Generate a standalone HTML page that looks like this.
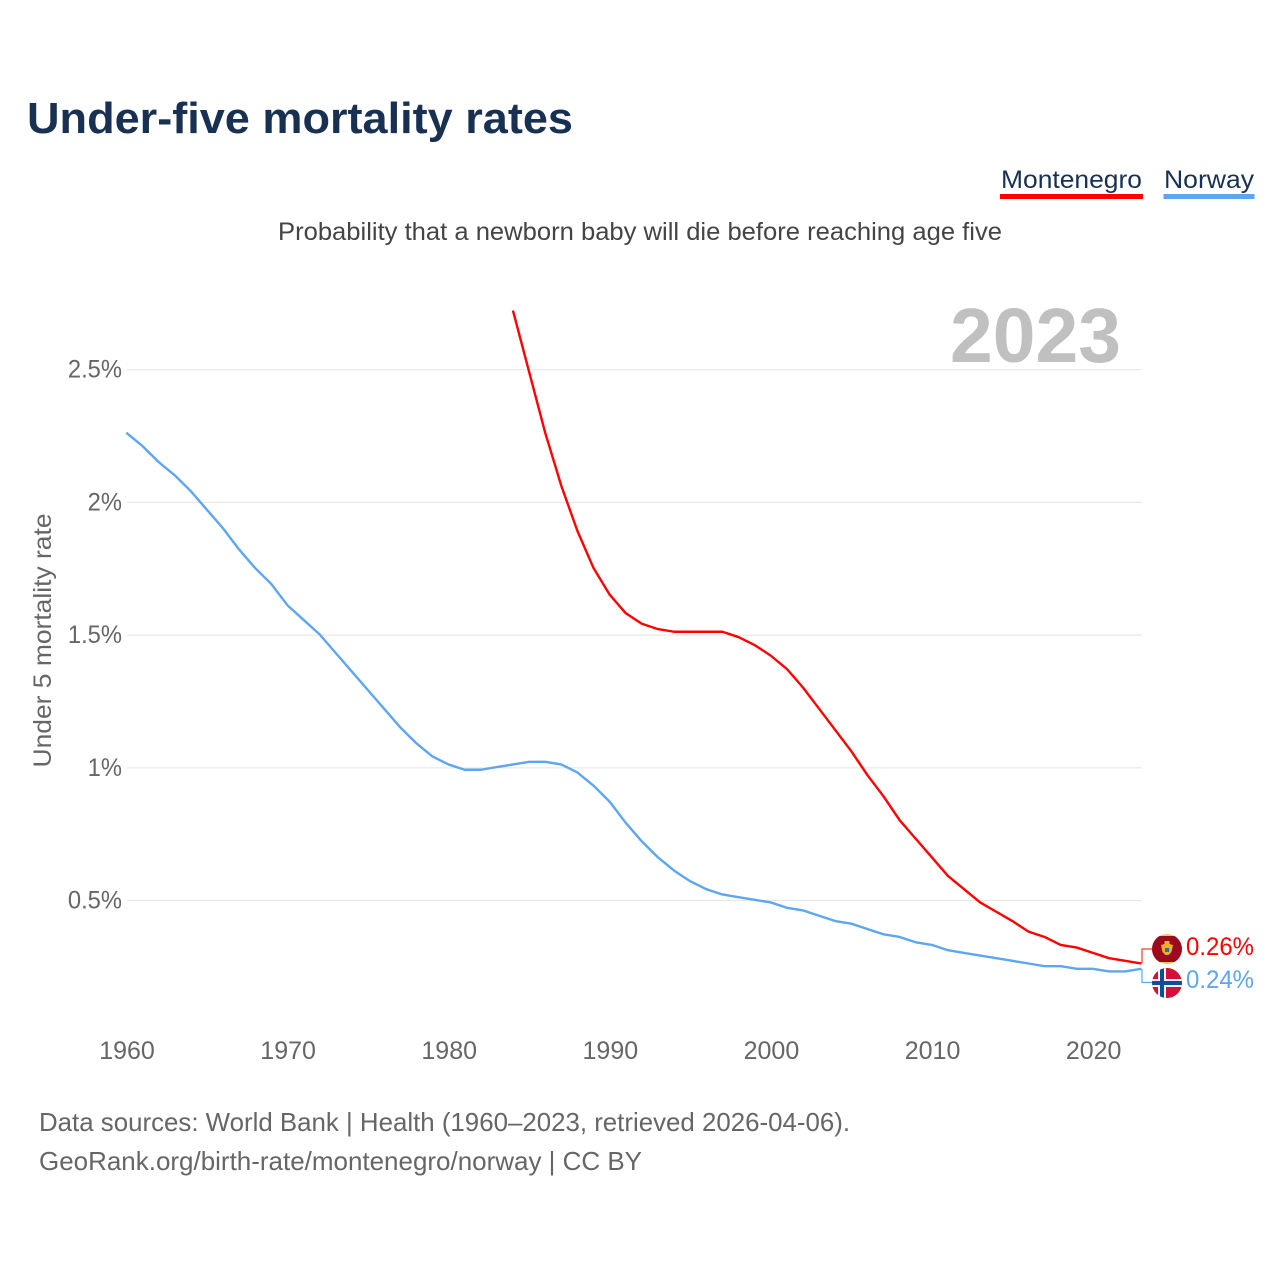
<!DOCTYPE html>
<html lang="en">
<head>
<meta charset="utf-8">
<title>Under-five mortality rates</title>
<style>
html,body{margin:0;padding:0;background:#fff;width:1280px;height:1280px;overflow:hidden}
svg{display:block}
text{font-family:"Liberation Sans",sans-serif}
</style>
</head>
<body>
<svg id="chart" width="1280" height="1280" viewBox="0 0 1280 1280" xmlns="http://www.w3.org/2000/svg">
  <text x="27" y="133" font-size="44" font-weight="700" fill="#183153" textLength="546" lengthAdjust="spacingAndGlyphs">Under-five mortality rates</text>

  <g>
    <g>
      <text x="1001" y="188" font-size="25" fill="#183153" textLength="141" lengthAdjust="spacingAndGlyphs">Montenegro</text>
      <rect x="1000" y="194" width="143" height="5" fill="#ff0000"/>
    </g>
    <g>
      <text x="1164" y="188" font-size="25" fill="#183153" textLength="90" lengthAdjust="spacingAndGlyphs">Norway</text>
      <rect x="1163.500" y="194" width="91" height="5" fill="#5ea6ee"/>
    </g>
  </g>

  <text x="278" y="240" font-size="25" fill="#444444" textLength="724" lengthAdjust="spacingAndGlyphs">Probability that a newborn baby will die before reaching age five</text>

  <g id="grid"></g>
  <g id="yticks"></g>
  <g id="xticks"></g>

  <text x="950" y="362" font-size="77" font-weight="700" fill="#c0c0c0" textLength="171" lengthAdjust="spacingAndGlyphs">2023</text>

  <text transform="translate(51,640.500) rotate(-90)" text-anchor="middle" font-size="25" fill="#666666" textLength="254" lengthAdjust="spacingAndGlyphs">Under 5 mortality rate</text>

  <g id="series" transform="translate(-0.7,-0.7)"></g>

  <g id="endlabels"></g>

  <g>
    <clipPath id="clip-me"><circle cx="1167" cy="949" r="15"/></clipPath>
    <g clip-path="url(#clip-me)">
      <rect x="1152" y="934" width="30" height="30" fill="#f2c94c"/>
      <rect x="1152" y="936" width="30" height="26" fill="#9b0a1e"/>
      <path d="M1164.500 941h5v3l3.500 1-1.500 7-3 3h-3l-3-3-1.500-7 3.500-1z" fill="#e6b325"/>
      <rect x="1165" y="948" width="4" height="4" fill="#2a6db5"/>
    </g>
  </g>
  <g>
    <clipPath id="clip-no"><circle cx="1167" cy="983" r="15"/></clipPath>
    <g clip-path="url(#clip-no)">
      <rect x="1152" y="968" width="30" height="30" fill="#d3103a"/>
      <rect x="1158" y="968" width="8" height="30" fill="#f4f4f4"/>
      <rect x="1152" y="979" width="30" height="8" fill="#f4f4f4"/>
      <rect x="1160" y="968" width="4" height="30" fill="#0f4c9c"/>
      <rect x="1152" y="981" width="30" height="4" fill="#0f4c9c"/>
    </g>
  </g>

  <g>
    <text x="39" y="1131" font-size="26" fill="#666666" textLength="811" lengthAdjust="spacingAndGlyphs">Data sources: World Bank | Health (1960–2023, retrieved 2026-04-06).</text>
    <text x="39" y="1170" font-size="26" fill="#666666" textLength="603" lengthAdjust="spacingAndGlyphs">GeoRank.org/birth-rate/montenegro/norway | CC BY</text>
  </g>
</svg>
<script>
const yTickValues = [0.5, 1, 1.5, 2, 2.5];
const yTickLabels = ["0.5%", "1%", "1.5%", "2%", "2.5%"];
const xTickYears = [1960, 1970, 1980, 1990, 2000, 2010, 2020];
const norwayStartYear = 1960;
const norwayValues = [2.26,2.21,2.15,2.10,2.04,1.97,1.90,1.82,1.75,1.69,1.61,1.555,1.50,1.43,1.36,1.29,1.22,1.15,1.09,1.04,1.01,0.99,0.99,1.00,1.01,1.02,1.02,1.01,0.98,0.93,0.87,0.79,0.72,0.66,0.61,0.57,0.54,0.52,0.51,0.50,0.49,0.47,0.46,0.44,0.42,0.41,0.39,0.37,0.36,0.34,0.33,0.31,0.30,0.29,0.28,0.27,0.26,0.25,0.25,0.24,0.24,0.23,0.23,0.24];
const montenegroStartYear = 1984;
const montenegroValues = [2.72,2.49,2.26,2.06,1.89,1.75,1.65,1.58,1.54,1.52,1.51,1.51,1.51,1.51,1.49,1.46,1.42,1.37,1.30,1.22,1.14,1.06,0.97,0.89,0.80,0.73,0.66,0.59,0.54,0.49,0.455,0.42,0.38,0.36,0.33,0.32,0.30,0.28,0.27,0.26];

const NS = 'http://www.w3.org/2000/svg';
const X0 = 127, X1 = 1142, YEAR0 = 1960, YEAR1 = 2023;
function xScale(year) { return X0 + (year - YEAR0) * (X1 - X0) / (YEAR1 - YEAR0); }
function yScale(v) { return 1033.2 - v * 265.4; }
function make(parent, tag, attrs) {
  const el = document.createElementNS(NS, tag);
  for (const k in attrs) el.setAttribute(k, attrs[k]);
  parent.appendChild(el);
  return el;
}

const grid = document.getElementById('grid');
const yticks = document.getElementById('yticks');
yTickValues.forEach(function (v, i) {
  const line = make(grid, 'line', {x1: X0, x2: X1, y1: yScale(v), y2: yScale(v), stroke: '#e8e8e8', 'stroke-width': 1.2});
  
  
  const t = make(yticks, 'text', {x: 122, y: yScale(v) + 8, 'text-anchor': 'end', 'font-size': 25, fill: '#666666'});
  
  
  t.textContent = yTickLabels[i];
  const naturalWidth = t.getComputedTextLength();
  t.setAttribute('textLength', (naturalWidth * 0.95).toFixed(2));
  t.setAttribute('lengthAdjust', 'spacingAndGlyphs');
});

const xticks = document.getElementById('xticks');
xTickYears.forEach(function (yr) {
  const t = make(xticks, 'text', {x: xScale(yr), y: 1059, 'text-anchor': 'middle', 'font-size': 25, fill: '#666666'});
  
  
  t.textContent = String(yr);
});

function linePoints(values, startYear) {
  return values.map(function (v, i) {
    return xScale(startYear + i).toFixed(2) + ',' + yScale(v).toFixed(2);
  }).join(' ');
}
const series = document.getElementById('series');
const norwayLine = make(series, 'polyline', {points: linePoints(norwayValues, norwayStartYear), fill: 'none', stroke: '#5ea6ee', 'stroke-width': 2.4, 'stroke-linejoin': 'round'});


const montenegroLine = make(series, 'polyline', {points: linePoints(montenegroValues, montenegroStartYear), fill: 'none', stroke: '#ff0000', 'stroke-width': 2.4, 'stroke-linejoin': 'round'});



const endlabels = document.getElementById('endlabels');
const lastMontenegro = montenegroValues[montenegroValues.length - 1];
const lastNorway = norwayValues[norwayValues.length - 1];

const connectorMontenegro = make(endlabels, 'polyline', {points: X1 + ',' + (yScale(lastMontenegro) - 0.7) + ' ' + X1 + ',949 1152,949', fill: 'none', stroke: '#ff0000', 'stroke-width': 1.2, 'stroke-opacity': 0.8});


const connectorNorway = make(endlabels, 'polyline', {points: X1 + ',' + (yScale(lastNorway) - 0.7) + ' ' + X1 + ',982.500 1152,982.500', fill: 'none', stroke: '#5ea6ee', 'stroke-width': 1.2});



const labelMontenegro = make(endlabels, 'text', {x: 1186, y: 955, 'font-size': 25, fill: '#ff0000', textLength: 68, lengthAdjust: 'spacingAndGlyphs'});


labelMontenegro.textContent = lastMontenegro.toFixed(2) + '%';
const labelNorway = make(endlabels, 'text', {x: 1186, y: 988, 'font-size': 25, fill: '#5ea6ee', textLength: 68, lengthAdjust: 'spacingAndGlyphs'});


labelNorway.textContent = lastNorway.toFixed(2) + '%';
</script>
</body>
</html>
